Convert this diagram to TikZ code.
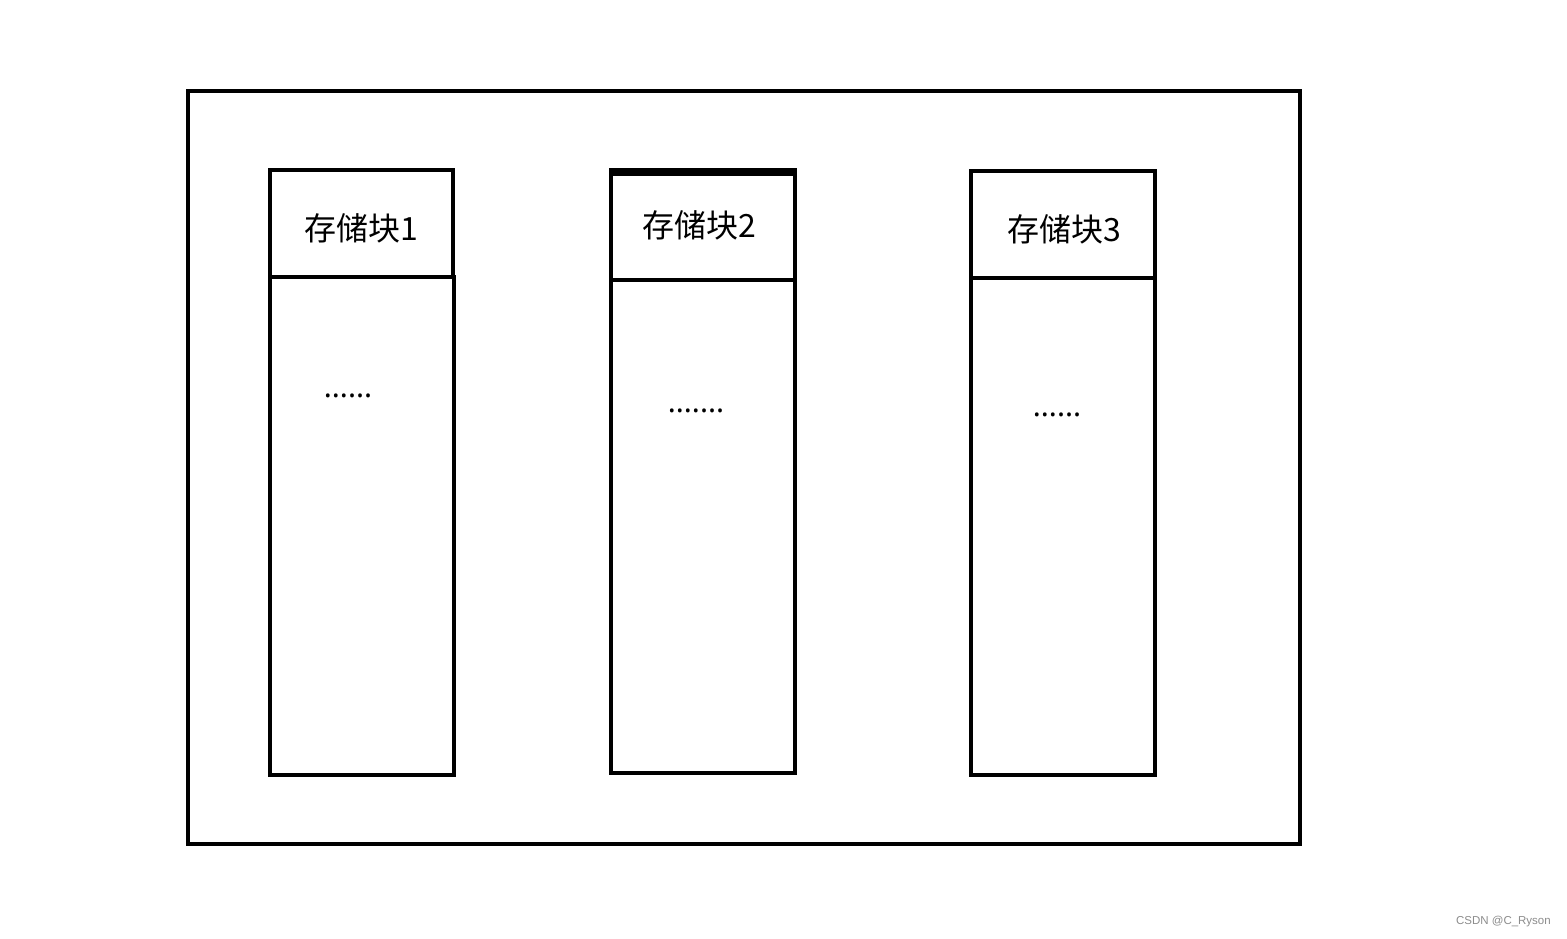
\documentclass[tikz,border=0pt]{standalone}
\usepackage{fontspec}
\setmainfont{Noto Sans}
\newfontfamily\cjk{Noto Sans CJK SC}
\newfontfamily\wm{Liberation Sans}
\begin{document}
\begin{tikzpicture}[x=1pt,y=-1pt,
  boxline/.style={draw=black,line width=4pt,inner sep=0pt,outer sep=0pt,rectangle},
  label/.style={font=\cjk\fontsize{32}{36}\selectfont,inner sep=0pt},
  dots/.style={font=\fontsize{30}{32}\selectfont,inner sep=0pt}]
\useasboundingbox (0,0) rectangle (1567,939);
\fill[white] (0,0) rectangle (1567,939);
% outer frame
\node[boxline,minimum width=1112pt,minimum height=753pt] (frame) at (744,467.5) {};
% block 1
\node[boxline,minimum width=184pt,minimum height=498pt] (b1) at (362,526) {};
\node[boxline,minimum width=183pt,minimum height=107pt] (t1) at (361.5,223.5) {};
\node[label] (h1) at (361,228) {存储块1};
\node[dots] (d1) at (348,396) {......};
% block 2
\node[boxline,minimum width=184pt,minimum height=493pt] (b2) at (703,526.5) {};
\node[boxline,minimum width=184pt,minimum height=108pt] (t2) at (703,226) {};
\draw[line width=8pt] ([xshift=-2pt,yshift=-0.5pt]t2.north west) -- ([xshift=2pt,yshift=-0.5pt]t2.north east);
\node[label] (h2) at (699,225) {存储块2};
\node[dots] (d2) at (696,411) {.......};
% block 3
\node[boxline,minimum width=184pt,minimum height=497pt] (b3) at (1063,526.5) {};
\node[boxline,minimum width=184pt,minimum height=107pt] (t3) at (1063,224.5) {};
\node[label] (h3) at (1064,229) {存储块3};
\node[dots] (d3) at (1057,415) {......};
% watermark
\node[font=\wm\fontsize{11.5}{13}\selectfont,text=black!45,anchor=east,inner sep=0pt] (wm) at (1551,922) {CSDN @C\_Ryson};
\end{tikzpicture}
\end{document}
